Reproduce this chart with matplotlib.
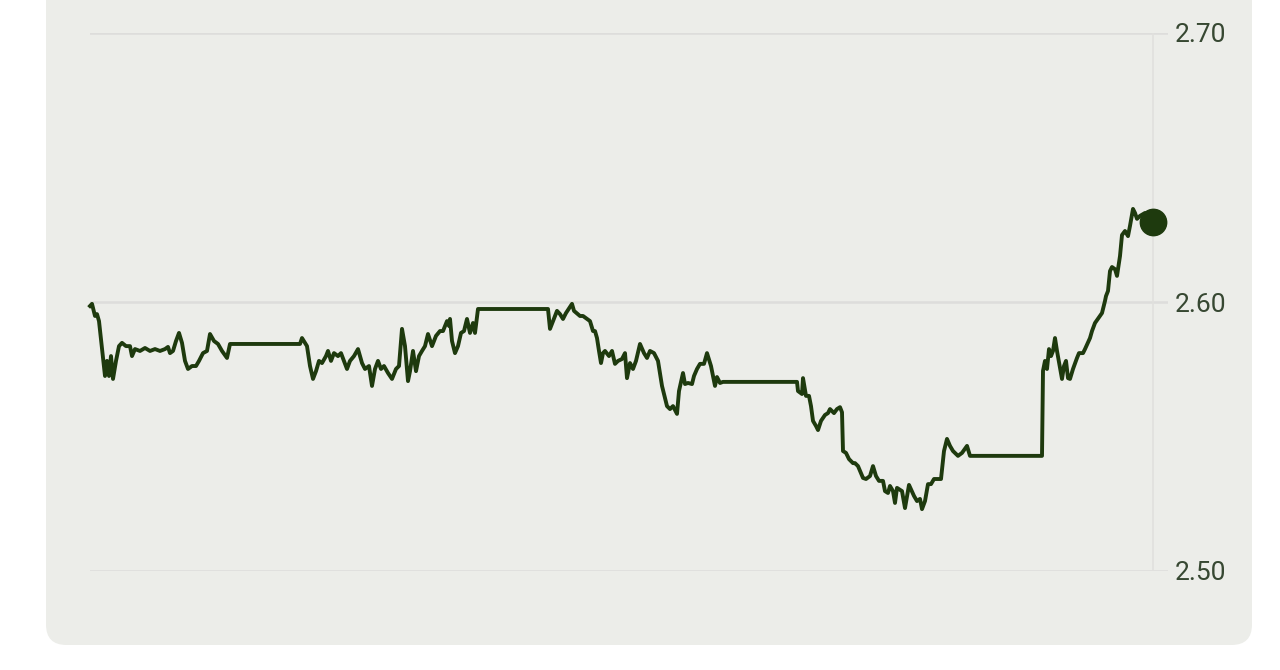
import matplotlib.pyplot as plt
from matplotlib.patches import FancyBboxPatch

# time index (minutes since open, roughly) and price readings
minutes = [0, 2, 5, 7, 9, 15, 17, 19, 21, 23, 26, 29, 32, 36, 40, 42, 45, 50, 55, 60,
           65, 70, 75, 78, 80, 83, 86, 89, 92, 95, 98, 102, 106, 109, 113, 117, 120, 124,
           128, 132, 137, 140, 210, 212, 217, 220, 223, 226, 229, 232, 236, 238, 241, 244,
           248, 251, 254, 257, 260, 264, 268, 272, 275, 279, 282, 285, 288, 291, 294, 298,
           302, 306, 309, 312, 315, 318, 320, 323, 326, 329, 332, 335, 338, 342, 346, 350,
           353, 357, 359, 360, 362, 365, 368, 371, 374, 377, 380, 383, 385, 388, 458, 459,
           460, 463, 467, 470, 473, 476, 482, 484, 490, 493, 497, 500, 503, 505, 507, 509,
           511, 513, 515, 519, 522, 525, 528, 532, 535, 537, 540, 543, 546, 550, 554, 557,
           560, 564, 568, 572, 577, 580, 583, 587, 589, 593, 595, 598, 602, 604, 607, 610,
           614, 617, 621, 625, 627, 630, 633, 707, 708, 712, 713, 716, 719, 721, 723, 726,
           728, 731, 735, 738, 740, 744, 747, 750, 752, 753, 756, 759, 763, 765, 768, 773,
           776, 780, 783, 786, 789, 793, 795, 798, 800, 803, 805, 807, 812, 815, 819, 824,
           827, 830, 832, 835, 838, 841, 844, 847, 851, 854, 857, 860, 863, 868, 872, 877,
           880, 952, 953, 955, 957, 959, 961, 963, 965, 967, 972, 974, 976, 978, 980, 983,
           987, 989, 993, 995, 1000, 1002, 1005, 1010, 1012, 1015, 1016, 1018, 1020, 1022,
           1025, 1027, 1030, 1032, 1035, 1038, 1040, 1043, 1045, 1047, 1050, 1055, 1063]
price = [2.5985, 2.5993, 2.5948, 2.5955, 2.5929, 2.5725, 2.5781, 2.5725, 2.5799, 2.5714,
         2.5781, 2.5836, 2.5848, 2.5836, 2.5836, 2.5799, 2.5825, 2.5818, 2.5829, 2.5818,
         2.5825, 2.5818, 2.5825, 2.5833, 2.5810, 2.5818, 2.5855, 2.5885, 2.5848, 2.5781,
         2.5751, 2.5762, 2.5762, 2.5781, 2.5810, 2.5818, 2.5881, 2.5855, 2.5844, 2.5818,
         2.5792, 2.5844, 2.5844, 2.5866, 2.5836, 2.5762, 2.5714, 2.5743, 2.5781, 2.5773,
         2.5799, 2.5818, 2.5781, 2.5810, 2.5799, 2.5810, 2.5781, 2.5751, 2.5781, 2.5799,
         2.5825, 2.5773, 2.5751, 2.5762, 2.5688, 2.5751, 2.5781, 2.5751, 2.5762, 2.5736,
         2.5714, 2.5751, 2.5762, 2.5900, 2.5836, 2.5706, 2.5743, 2.5818, 2.5743, 2.5799,
         2.5818, 2.5836, 2.5881, 2.5836, 2.5874, 2.5892, 2.5892, 2.5929, 2.5911, 2.5937,
         2.5855, 2.5810, 2.5836, 2.5885, 2.5892, 2.5937, 2.5885, 2.5922, 2.5885, 2.5974,
         2.5974, 2.5937, 2.5900, 2.5929, 2.5967, 2.5955, 2.5937, 2.5959, 2.5993, 2.5967,
         2.5948, 2.5948, 2.5937, 2.5929, 2.5892, 2.5892, 2.5866, 2.5818, 2.5773, 2.5810,
         2.5818, 2.5799, 2.5818, 2.5770, 2.5781, 2.5788, 2.5810, 2.5717, 2.5773, 2.5751,
         2.5781, 2.5844, 2.5810, 2.5792, 2.5818, 2.5810, 2.5781, 2.5688, 2.5613, 2.5602,
         2.5613, 2.5584, 2.5669, 2.5736, 2.5695, 2.5699, 2.5695, 2.5725, 2.5751, 2.5770,
         2.5770, 2.5810, 2.5762, 2.5688, 2.5721, 2.5699, 2.5703, 2.5703, 2.5669, 2.5658,
         2.5717, 2.5651, 2.5651, 2.5613, 2.5558, 2.5539, 2.5524, 2.5558, 2.5580, 2.5587,
         2.5602, 2.5587, 2.5602, 2.5609, 2.5590, 2.5446, 2.5439, 2.5416, 2.5401, 2.5401,
         2.5390, 2.5346, 2.5342, 2.5353, 2.5390, 2.5353, 2.5335, 2.5335, 2.5297, 2.5290,
         2.5316, 2.5297, 2.5253, 2.5309, 2.5297, 2.5234, 2.5320, 2.5279, 2.5260, 2.5268,
         2.5230, 2.5260, 2.5323, 2.5323, 2.5342, 2.5342, 2.5342, 2.5446, 2.5491, 2.5465,
         2.5446, 2.5428, 2.5439, 2.5465, 2.5428, 2.5428, 2.5744, 2.5781, 2.5751, 2.5825,
         2.5799, 2.5818, 2.5866, 2.5818, 2.5714, 2.5762, 2.5781, 2.5717, 2.5714, 2.5751,
         2.5792, 2.5810, 2.5810, 2.5825, 2.5866, 2.5892, 2.5922, 2.5948, 2.5959, 2.6004,
         2.6022, 2.6041, 2.6115, 2.6130, 2.6122, 2.6097, 2.6171, 2.6249, 2.6264, 2.6245,
         2.6283, 2.6346, 2.6331, 2.6309, 2.6320, 2.6331, 2.6297]
yticks = [2.50, 2.60, 2.70]
ytick_labels = ["2.50", "2.60", "2.70"]

W, H = 1280, 670
fig = plt.figure(figsize=(W / 100, H / 100), dpi=100)
fig.patch.set_facecolor("white")

# rounded light panel behind everything
panel = FancyBboxPatch((46 / W, 25 / H), (1252 - 46) / W, 700 / H,
                       boxstyle="round,pad=0,rounding_size=0.016",
                       transform=fig.transFigure, facecolor="#ecede9",
                       edgecolor="none", mutation_aspect=W / H, zorder=-10)
fig.patches.append(panel)

ax = fig.add_axes([90 / W, 1 - 571 / H, (1168 - 90) / W, (571 - 33) / H])
ax.set_zorder(1)
ax.set_facecolor("none")
ax.set_xlim(0, 1078)
ax.set_ylim(2.50, 2.70)

for y in yticks:
    ax.axhline(y, color="#dddddb", lw=1.8, zorder=1)
ax.axvline(minutes[-1], color="#e0e0dd", lw=1.2, zorder=1)

line_col = "#1e3a0e"
ax.plot(minutes, price, color=line_col, lw=2.8, solid_joinstyle="round",
        zorder=3, clip_on=False)
ax.plot(minutes[-1], price[-1], "o", color=line_col, ms=19, zorder=4, clip_on=False)

for s in ax.spines.values():
    s.set_visible(False)
ax.set_xticks([])
ax.yaxis.tick_right()
ax.set_yticks(yticks)
ax.set_yticklabels(ytick_labels, fontsize=19, color="#374832", family="Roboto")
ax.tick_params(axis="y", length=0, pad=5)

fig.savefig("out.png", dpi=100, facecolor="white")
